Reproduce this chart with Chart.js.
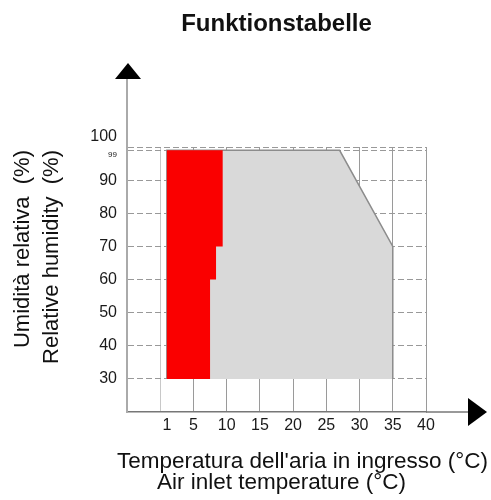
<!DOCTYPE html>
<html>
<head>
<meta charset="utf-8">
<script src="https://cdn.jsdelivr.net/npm/chart.js@4"></script>
<style>
  html, body { margin: 0; padding: 0; background: #fff; }
</style>
</head>
<body>
<canvas id="rhChart" width="491" height="500"></canvas>
<script>
const chartTitle = 'Funktionstabelle';
const xTitle = ["Temperatura dell'aria in ingresso (°C)", 'Air inlet temperature (°C)'];
const yTitle = ['Umidità relativa  (%)', 'Relative humidity  (%)'];

const xTicks = [0, 1, 5, 10, 15, 20, 25, 30, 35, 40];
const yTicks = [30, 40, 50, 60, 70, 80, 90, 99, 100];

// working range (grey) outline, temperature / humidity
const areaTemp = [1, 1, 27, 35, 35];
const areaRh = [30, 99, 99, 70, 30];
// red zone outline
const redTemp = [1, 1, 9.4, 9.4, 8.4, 8.4, 7.5, 7.5];
const redRh = [30, 99, 99, 70, 70, 60, 60, 30];

const toPoints = (xs, ys) => xs.map((x, i) => ({ x: x, y: ys[i] }));

Chart.defaults.font.family = "'Liberation Sans', Arial, sans-serif";
Chart.defaults.color = '#1a1a1a';

const decor = {
  id: 'decor',
  afterDraw(chart) {
    const { ctx, chartArea: a } = chart;
    ctx.save();
    // y axis extension + arrow
    ctx.strokeStyle = '#aaa';
    ctx.lineWidth = 2;
    ctx.beginPath();
    ctx.moveTo(a.left, a.top);
    ctx.lineTo(a.left, a.top - 70);
    ctx.stroke();
    ctx.fillStyle = '#000';
    ctx.beginPath();
    ctx.moveTo(a.left + 1, a.top - 84);
    ctx.lineTo(a.left - 12, a.top - 68);
    ctx.lineTo(a.left + 14, a.top - 68);
    ctx.closePath();
    ctx.fill();
    // x axis extension + arrow
    ctx.strokeStyle = '#777';
    ctx.lineWidth = 1.5;
    ctx.beginPath();
    ctx.moveTo(a.right, a.bottom);
    ctx.lineTo(a.right + 44, a.bottom);
    ctx.stroke();
    ctx.beginPath();
    ctx.moveTo(a.right + 61, a.bottom);
    ctx.lineTo(a.right + 42, a.bottom - 14);
    ctx.lineTo(a.right + 42, a.bottom + 14);
    ctx.closePath();
    ctx.fill();

    // titles
    ctx.fillStyle = '#111';
    ctx.textBaseline = 'alphabetic';
    ctx.font = "bold 24px 'Liberation Sans', Arial, sans-serif";
    ctx.textAlign = 'center';
    ctx.fillText(chartTitle, (a.left + a.right) / 2, 31);

    ctx.font = "22.5px 'Liberation Sans', Arial, sans-serif";
    ctx.textAlign = 'left';
    ctx.fillText(xTitle[0], a.left - 10, a.bottom + 56);
    ctx.fillText(xTitle[1], a.left + 30, a.bottom + 77);

    ctx.font = "22px 'Liberation Sans', Arial, sans-serif";
    ctx.textAlign = 'right';
    [29, 58].forEach((bx, i) => {
      ctx.save();
      ctx.translate(bx, a.top + 3);
      ctx.rotate(-Math.PI / 2);
      ctx.fillText(yTitle[i], 0, 0);
      ctx.restore();
    });
    ctx.restore();
  }
};

const ctx = document.getElementById('rhChart').getContext('2d');
const rhChart = new Chart(ctx, {
  type: 'scatter',
  data: {
    datasets: [
      {
        label: 'red',
        data: toPoints(redTemp, redRh),
        showLine: true,
        fill: 'shape',
        backgroundColor: '#fa0000',
        borderColor: '#fa0000',
        borderWidth: 0,
        pointRadius: 0,
        tension: 0
      },
      {
        label: 'area',
        data: toPoints(areaTemp, areaRh),
        showLine: true,
        fill: 'shape',
        backgroundColor: '#d9d9d9',
        borderColor: '#8c8c8c',
        borderWidth: 1.5,
        pointRadius: 0,
        tension: 0
      }
    ]
  },
  options: {
    responsive: false,
    animation: false,
    layout: { padding: { top: 147, right: 65, bottom: 58, left: 0 } },
    plugins: {
      legend: { display: false },
      tooltip: { enabled: false },
      title: { display: false }
    },
    scales: {
      x: {
        type: 'linear',
        min: -5,
        max: 40,
        afterBuildTicks: s => { s.ticks = xTicks.map(v => ({ value: v })); },
        afterFit: s => { s.height = 30; },
        grid: {
          drawTicks: false,
          color: c => {
            if (!c.tick) return '#9a9a9a';
            if (c.tick.value === 1) return 'rgba(0,0,0,0)';
            if (c.tick.value === 0) return '#c8c8c8';
            return '#9a9a9a';
          }
        },
        border: { color: '#777', width: 1.5 },
        ticks: {
          padding: 4,
          autoSkip: false,
          maxRotation: 0,
          font: { size: 16 },
          callback: v => (v === 0 ? '' : v)
        }
      },
      y: {
        type: 'linear',
        min: 20,
        max: 100,
        afterBuildTicks: s => { s.ticks = yTicks.map(v => ({ value: v })); },
        afterFit: s => { s.width = 127; },
        grid: { drawTicks: false, color: '#999' },
        border: { color: '#aaa', width: 2, dash: [6, 3] },
        ticks: {
          padding: 10,
          autoSkip: false,
          font: c => (c.tick && c.tick.value === 99 ? { size: 8 } : { size: 16, lineHeight: 1.25 }),
          callback: v => {
            if (v === 100) return ['100', ''];
            if (v === 99) return ['', '99'];
            return v;
          }
        }
      }
    }
  },
  plugins: [decor]
});
</script>
</body>
</html>
